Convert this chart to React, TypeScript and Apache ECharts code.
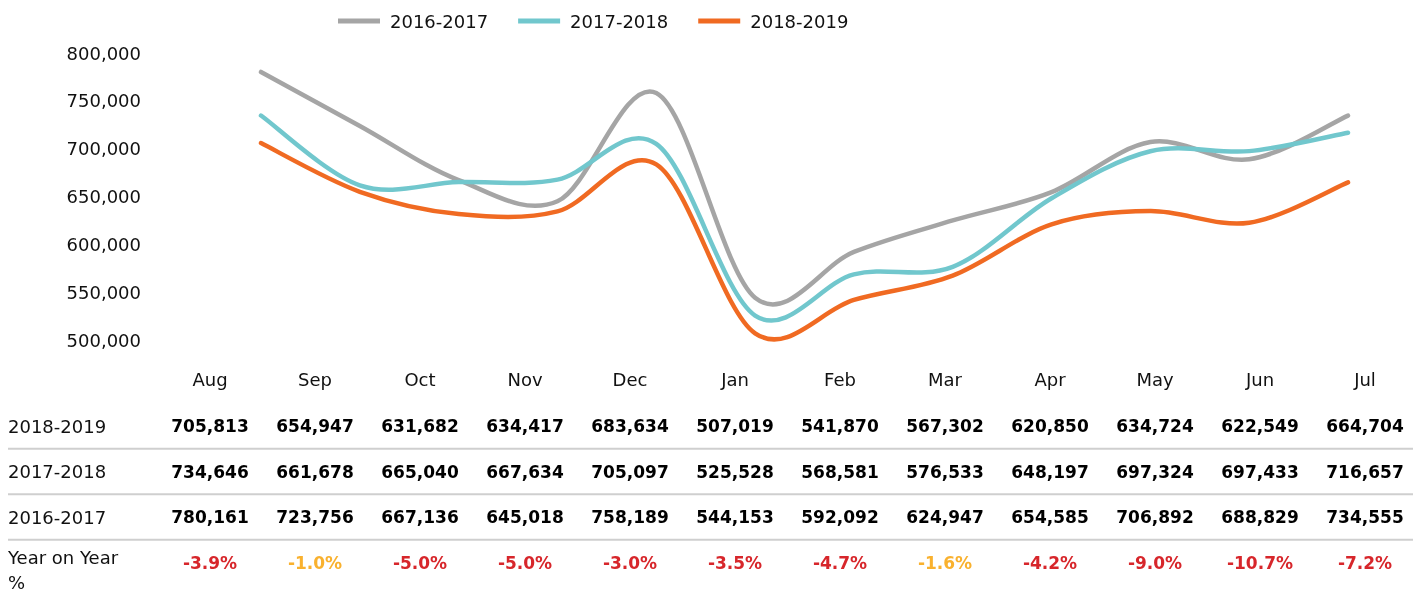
import React, { useEffect, useRef } from "react";
import * as echarts from "echarts";

const months = ["Aug", "Sep", "Oct", "Nov", "Dec", "Jan", "Feb", "Mar", "Apr", "May", "Jun", "Jul"];
const seriesNames = ["2016-2017", "2017-2018", "2018-2019"];
const s2016 = [780161, 723756, 667136, 645018, 758189, 544153, 592092, 624947, 654585, 706892, 688829, 734555];
const s2017 = [734646, 661678, 665040, 667634, 705097, 525528, 568581, 576533, 648197, 697324, 697433, 716657];
const s2018 = [705813, 654947, 631682, 634417, 683634, 507019, 541870, 567302, 620850, 634724, 622549, 664704];
const yoy = [-3.9, -1.0, -5.0, -5.0, -3.0, -3.5, -4.7, -1.6, -4.2, -9.0, -10.7, -7.2];
const rowLabels = ["2018-2019", "2017-2018", "2016-2017", "Year on Year\n%"];

const colors = ["#a5a5a5", "#71c7cd", "#f06a22"];
const FONT = "DejaVu Sans";

function smoothPath(pts: number[][]): string {
  let d = "M" + pts[0][0] + " " + pts[0][1];
  for (let i = 0; i < pts.length - 1; i++) {
    const p0 = pts[i - 1] || pts[i];
    const p1 = pts[i];
    const p2 = pts[i + 1];
    const p3 = pts[i + 2] || pts[i + 1];
    const c1x = p1[0] + (p2[0] - p0[0]) / 6;
    const c1y = p1[1] + (p2[1] - p0[1]) / 6;
    const c2x = p2[0] - (p3[0] - p1[0]) / 6;
    const c2y = p2[1] - (p3[1] - p1[1]) / 6;
    d += " C" + c1x + " " + c1y + " " + c2x + " " + c2y + " " + p2[0] + " " + p2[1];
  }
  return d;
}

export default function App() {
  const ref = useRef<HTMLDivElement>(null);
  useEffect(() => {
    if (!ref.current) return;
    const chart = echarts.init(ref.current, undefined, { renderer: "svg" });
    const fmt = (v: number) => v.toLocaleString("en-US");
    const tableData: any[] = [];
    const rows = [s2018, s2017, s2016];
    rows.forEach((arr, r) => {
      arr.forEach((v, i) => {
        tableData.push({ value: [i, rowLabels[r], v], label: { formatter: fmt(v) } });
      });
    });
    yoy.forEach((v, i) => {
      tableData.push({
        value: [i, rowLabels[3], v],
        label: {
          formatter: v.toFixed(1) + "%",
          color: v > -2 ? "#f9b12e" : "#d7262b",
          offset: [0, 9],
        },
      });
    });
    const sepY = [448.75, 494.25, 539.75];
    chart.setOption({
      animation: false,
      textStyle: { fontFamily: FONT },
      legend: {
        data: seriesNames,
        left: 333,
        top: 7,
        icon: "rect",
        itemWidth: 42,
        itemHeight: 5,
        itemGap: 30,
        textStyle: { fontSize: 18, color: "#111", fontFamily: FONT, padding: [0, 0, 0, 5] },
      },
      grid: [
        { left: 261, right: 65, top: 53, bottom: 254 },
        { left: 210, right: 48, top: 403.25, bottom: 8.75 },
      ],
      xAxis: [
        {
          gridIndex: 0,
          type: "category",
          data: months,
          boundaryGap: false,
          show: false,
        },
        {
          gridIndex: 1,
          type: "category",
          data: months,
          boundaryGap: false,
          position: "top",
          axisLine: { show: false },
          axisTick: { show: false },
          axisLabel: { fontSize: 18, color: "#111", margin: 15, fontFamily: FONT },
        },
      ],
      yAxis: [
        {
          gridIndex: 0,
          type: "value",
          min: 500000,
          max: 800000,
          interval: 50000,
          axisLine: { show: false },
          axisTick: { show: false },
          splitLine: { show: false },
          axisLabel: {
            fontSize: 18,
            color: "#111",
            margin: 120,
            fontFamily: FONT,
            formatter: (v: number) => v.toLocaleString("en-US"),
          },
        },
        {
          gridIndex: 1,
          type: "category",
          data: rowLabels,
          inverse: true,
          axisLine: { show: false },
          axisTick: { show: false },
          splitLine: { show: false },
          axisLabel: {
            align: "left",
            margin: 202,
            fontSize: 18,
            color: "#111",
            fontFamily: FONT,
            lineHeight: 25,
            formatter: (v: string) => (v.indexOf("\n") >= 0 ? "{y|" + v.replace("\n", "}\n{y|") + "}" : v),
            rich: { y: { fontSize: 18, color: "#111", fontFamily: FONT, lineHeight: 25, padding: [14, 0, 0, 0] } },
          },
        },
      ],
      graphic: sepY.map((y) => ({
        type: "line",
        shape: { x1: 8, y1: y, x2: 1413, y2: y },
        style: { stroke: "#cfcfcf", lineWidth: 2 },
        silent: true,
      })),
      series: [
        ...[s2016, s2017, s2018].map((d, k) => ({
          name: seriesNames[k],
          type: "custom",
          xAxisIndex: 0,
          yAxisIndex: 0,
          data: d.map((v, i) => [i, v]),
          encode: { x: 0, y: 1 },
          itemStyle: { color: colors[k] },
          silent: true,
          renderItem: (params: any, api: any) => {
            if (params.dataIndex !== 0) return null;
            const pts = d.map((v, i) => api.coord([i, v]));
            return {
              type: "path",
              shape: { pathData: smoothPath(pts) },
              style: { fill: "none", stroke: colors[k], lineWidth: 4.5, lineCap: "round", lineJoin: "round" },
            };
          },
        })),
        {
          type: "scatter",
          xAxisIndex: 1,
          yAxisIndex: 1,
          data: tableData,
          symbolSize: 2,
          itemStyle: { color: "rgba(0,0,0,0)", opacity: 1 },
          label: {
            show: true,
            position: "inside",
            fontSize: 17,
            fontWeight: "bold",
            color: "#000",
            fontFamily: FONT,
          },
          labelLayout: { hideOverlap: false },
          silent: true,
        },
      ],
    });
    return () => chart.dispose();
  }, []);
  return <div ref={ref} style={{ position: "fixed", left: 0, top: 0, width: 1413, height: 594 }} />;
}
